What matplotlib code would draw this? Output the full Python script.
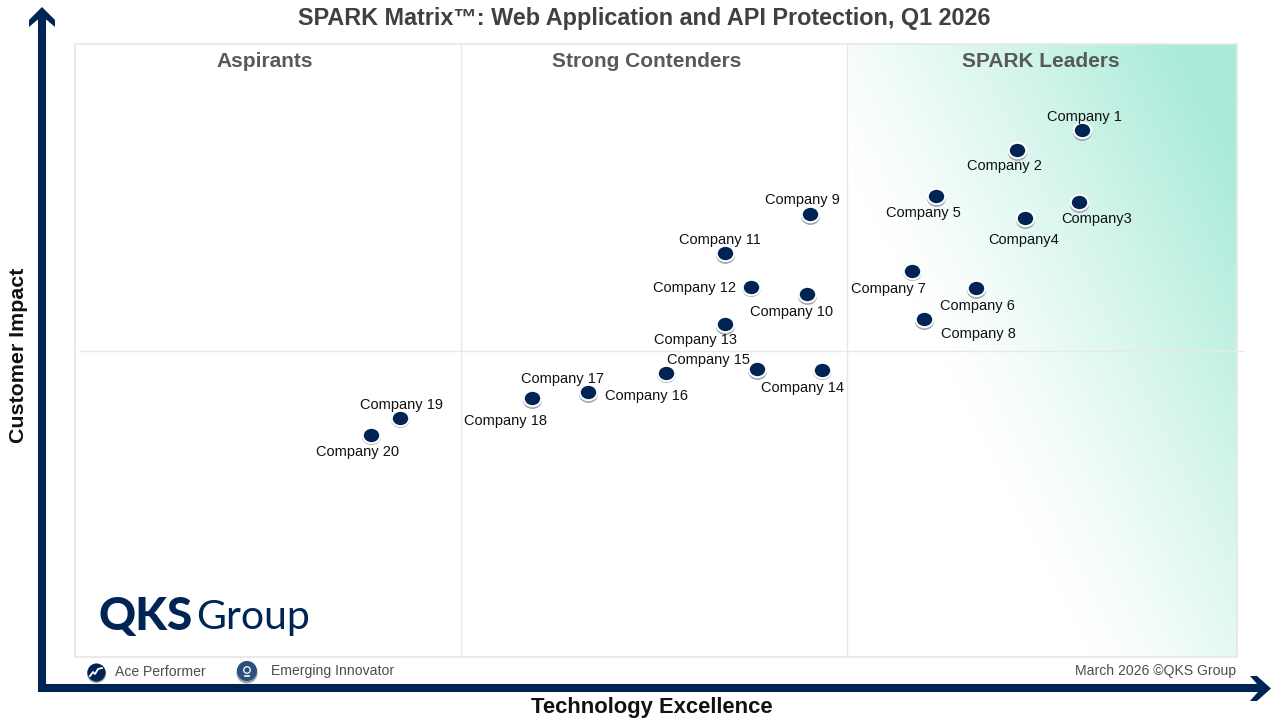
import numpy as np
from matplotlib import pyplot as plt
from matplotlib.colors import LinearSegmentedColormap
from matplotlib.markers import MarkerStyle
from matplotlib.path import Path
from matplotlib.transforms import Affine2D

plt.rcParams['font.family'] = ['Liberation Sans', 'DejaVu Sans']

NAVY = "#002554"

companies = ["Company 1", "Company 2", "Company3", "Company4", "Company 5",
             "Company 6", "Company 7", "Company 8", "Company 9", "Company 10",
             "Company 11", "Company 12", "Company 13", "Company 14", "Company 15",
             "Company 16", "Company 17", "Company 18", "Company 19", "Company 20"]
tech_excellence = [86.66, 81.07, 86.40, 81.76, 74.10, 77.55, 72.03, 73.06, 63.25, 62.99,
                   55.94, 58.18, 55.94, 64.28, 58.69, 50.86, 44.15, 39.33, 27.97, 25.47]
customer_impact = [85.97, 82.70, 74.22, 71.61, 75.20, 60.19, 62.97, 55.13, 72.26, 59.21,
                   65.90, 60.36, 54.32, 46.82, 46.98, 46.33, 43.23, 42.25, 38.99, 36.22]
# where each name sits relative to its dot, in pixels (right, up)
label_dx = [2, -13, 18, -1, -13, 1, -24, 54, -8, -15,
            -5, -57, -30, -19, -48, -19, -26, -27, 1, -13]
label_dy = [13, -16, -17, -22, -17, -18, -18, -15, 14, -18,
            13, -1, -16, -18, 9, -23, 13, -23, 13, -17]

quadrants = ["Aspirants", "Strong Contenders", "SPARK Leaders"]
quadrant_x = [16.35, 49.2, 83.1]

fig = plt.figure(figsize=(12.8, 7.2), dpi=100, facecolor="white")

# ---------------- MAIN PLOT AREA ----------------
ax = fig.add_axes([75 / 1280, 1 - 657 / 720, 1162 / 1280, 613 / 720])
ax.set_xticks([])
ax.set_yticks([])
for side in ax.spines.values():
    side.set_color("#e8e8e8")
    side.set_linewidth(1.3)

# Leaders gradient runs towards the top right corner
green = LinearSegmentedColormap.from_list("leaders", ["#ffffff", "#a8ebd8"])
gx, gy = np.meshgrid(np.linspace(847, 1237, 200), np.linspace(44, 657, 300))
shade = np.clip((2 * (gx - 935) - (gy - 350)) / 800, 0, 1) ** 1.2
ax.imshow(shade, cmap=green, vmin=0, vmax=1, origin="upper", aspect="auto",
          extent=[66.6, 100, 0, 100], zorder=1)
ax.set_xlim(0, 100)
ax.set_ylim(0, 100)

for name, qx in zip(quadrants, quadrant_x):
    ax.text(qx, 97.1, name, ha="center", va="center", fontsize=15,
            fontweight="bold", color="#595959", zorder=3)

# Dots are slightly flattened
dot = MarkerStyle(Path.unit_circle().transformed(Affine2D().scale(1, 0.88)))
ax.scatter(tech_excellence, customer_impact, s=190, marker=dot, color="#a0a6ad",
           linewidths=0, zorder=4, transform=ax.transData + Affine2D().translate(0, -1.5))
ax.scatter(tech_excellence, customer_impact, s=159, marker=dot, color=NAVY,
           edgecolors="white", linewidths=1.5, zorder=5)

for name, x, y, dx, dy in zip(companies, tech_excellence, customer_impact, label_dx, label_dy):
    ax.annotate(name, (x, y), xytext=(dx, dy), textcoords="offset pixels", ha="center",
                va="center", fontsize=10.5, color="#111111", zorder=6)

# ---------------- PAGE FURNITURE (pixel coordinates) ----------------
page = fig.add_axes([0, 0, 1, 1], facecolor="none")
page.set_xlim(0, 1280)
page.set_ylim(720, 0)
page.axis("off")

# Quadrant dividers
page.plot([461, 461], [44, 657], color="#e8e8e8", lw=1.0, zorder=2)
page.plot([847, 847], [44, 657], color="#e8e8e8", lw=1.0, zorder=2)
page.plot([80, 1243], [351, 351], color="#e8e8e8", lw=1.0, zorder=2)

# Axis arrows
page.plot([42, 42, 1262], [14, 688, 688], color=NAVY, lw=5.8,
          solid_joinstyle="miter", solid_capstyle="butt")
page.fill([1271, 1257, 1250, 1261, 1250, 1257], [688.5, 701, 701, 688.5, 676, 676],
          color=NAVY, lw=0)
page.fill([42, 55, 55, 42, 29, 29], [7, 20, 27, 16, 27, 20], color=NAVY, lw=0)

page.text(644, 19, "SPARK Matrix\u2122: Web Application and API Protection, Q1 2026",
          ha="center", va="center", fontsize=16.85, fontweight="bold", color="#404040")
page.text(652, 707.5, "Technology Excellence", ha="center", va="center",
          fontsize=15.8, fontweight="bold", color="#111111")
page.text(18.5, 355, "Customer Impact", ha="center", va="center", rotation=90,
          fontsize=15.4, fontweight="bold", color="#111111")

# Logo
page.text(99, 617, "QKS", ha="left", va="center", fontsize=33, fontweight="black",
          family="Lato", color=NAVY)
page.text(196, 618, "Group", ha="left", va="center", fontsize=29.5, fontweight="normal",
          family="Lato", color=NAVY)

# Legend row
page.scatter([96], [673], s=190, color="#a0a6ad", linewidths=0, zorder=3)
page.scatter([96], [672], s=170, color=NAVY, linewidths=0, zorder=4)
page.plot([90, 93, 95, 98, 102], [676, 672, 674, 669, 668], color="white", lw=1.3, zorder=5)
page.text(115, 671.5, "Ace Performer", ha="left", va="center", fontsize=10.1, color="#4d4d4d")

page.scatter([247, 247], [673, 671], s=[230, 210], color=["#a0a6ad", "#2a4f80"],
             linewidths=0, zorder=3)
page.scatter([247], [670], s=22, facecolors="none", edgecolors="white", linewidths=0.9, zorder=4)
page.plot([245, 249], [676, 676], color="white", lw=1.2, zorder=4)
page.text(271, 671.5, "Emerging Innovator", ha="left", va="center", fontsize=10.1, color="#4d4d4d")

page.text(1236, 671.5, "March 2026 \u00a9QKS Group", ha="right", va="center",
          fontsize=10.1, color="#4d4d4d")

fig.savefig("out.png", dpi=100)
